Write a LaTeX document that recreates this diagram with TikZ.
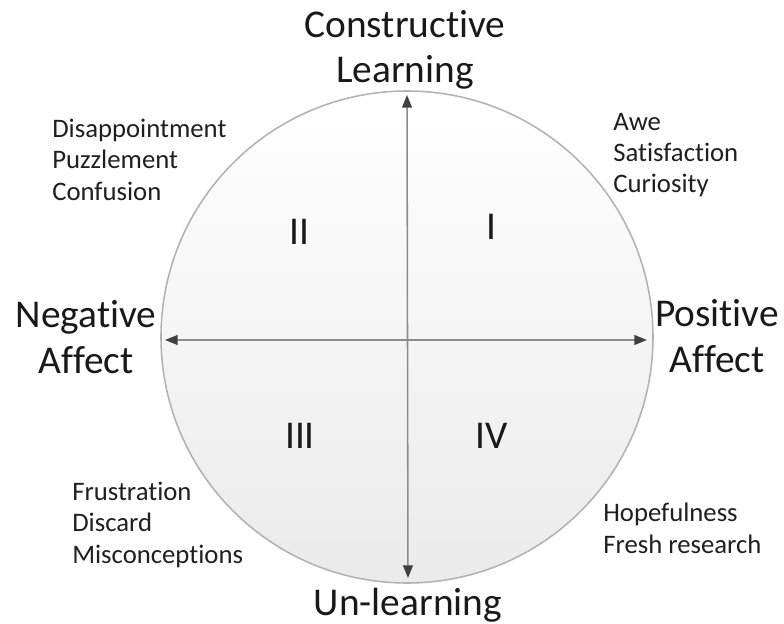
\documentclass[tikz,border=0pt]{standalone}
\usepackage{fontspec}
\setmainfont{Carlito}[Ligatures=NoCommon]
\usetikzlibrary{arrows.meta}

\begin{document}
\begin{tikzpicture}[x=0.025cm, y=-0.025cm,
    axis/.style={draw=black!45, line width=1.1pt, {Triangle[length=9pt, width=7pt, color=black!75]}-{Triangle[length=9pt, width=7pt, color=black!75]}},
    pole/.style={font=\fontsize{28}{32.7}\selectfont, align=center, anchor=base, inner sep=0pt, text=black!90},
    quad/.style={font=\fontsize{28}{32.7}\selectfont, anchor=base, inner sep=0pt, text=black!90},
    emo/.style={font=\fontsize{19}{22.2}\selectfont, align=left, anchor=base west, inner sep=0pt, text=black!88}]
  \useasboundingbox (0,0) rectangle (784,624);
  \coordinate(O) at (407,337);
  \coordinate(T) at (407,95);
  \coordinate(B) at (408,578);
  \coordinate(L) at (165,340);
  \coordinate(R) at (647,340);
  \shade[top color=white, bottom color=black!8, draw=black!30, line width=1.1pt] (O) circle [radius=246];
  \draw[axis] (B) -- (T);
  \draw[axis] (L) -- (R);
  % axis ends (base = last line)
  \node[pole] (constructive) at (405,83) {Constructive\\Learning};
  \node[pole] (unlearning) at (408,615) {Un-learning};
  \node[pole] (negative) at (86,373) {Negative\\Affect};
  \node[pole] (positive) at (717,372) {Positive\\Affect};
  % quadrants
  \node[quad] (q1) at (491,239) {I};
  \node[quad] (q2) at (299,244) {II};
  \node[quad] (q3) at (300,448) {III};
  \node[quad] (q4) at (492,448) {IV};
  % emotions
  \node[emo] (e2) at (52,200) {Disappointment\\Puzzlement\\Confusion};
  \node[emo] (e1) at (613,193) {Awe\\Satisfaction\\Curiosity};
  \node[emo] (e3) at (72,563) {Frustration\\Discard\\Misconceptions};
  \node[emo] (e4) at (603,553) {Hopefulness\\Fresh research};
\end{tikzpicture}
\end{document}
